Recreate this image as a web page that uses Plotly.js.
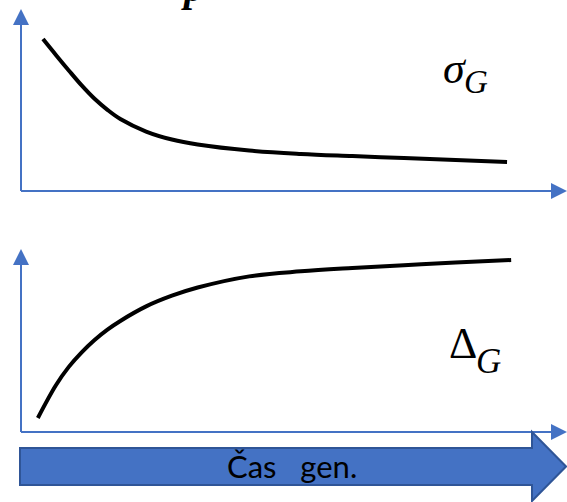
<!DOCTYPE html>
<html>
<head>
<meta charset="utf-8">
<script src="https://cdn.plot.ly/plotly-3.0.1.min.js"></script>
<style>html,body{margin:0;padding:0;background:#fff;}#chart{width:567px;height:502px;}</style>
</head>
<body>
<div id="chart"></div>
<script>
// ---- data ----
var genTop = [0, 0.25, 0.5, 0.75, 1, 1.25, 1.5, 2, 2.5, 3, 4, 5, 6, 7, 8, 9];
var sigmaG = [0.910, 0.815, 0.722, 0.632, 0.552, 0.486, 0.431, 0.356, 0.308, 0.278, 0.242, 0.222, 0.209, 0.197, 0.186, 0.174];
var genBottom = [-0.1, 0.25, 0.5, 0.75, 1, 1.25, 1.5, 2, 2.5, 3, 4, 5, 6, 7, 8, 9.08];
var deltaG = [0.084, 0.280, 0.390, 0.477, 0.551, 0.613, 0.665, 0.752, 0.816, 0.865, 0.932, 0.962, 0.982, 0.999, 1.015, 1.030];
var labelTop = ['σ', 'G'];
var labelBottom = ['Δ', 'G'];
var arrowText = 'Čas\u00a0\u00a0\u00a0gen.';
var topText = 'p';

// ---- layout helpers (pixel -> paper) ----
var W = 567, H = 502;
function px(x) { return x / W; }
function py(y) { return 1 - y / H; }
var blue = '#4472C4';

var traces = [
  {x: genTop, y: sigmaG, xaxis: 'x', yaxis: 'y', mode: 'lines',
   line: {color: '#000', width: 4, shape: 'spline', smoothing: 1}, hoverinfo: 'skip'},
  {x: genBottom, y: deltaG, xaxis: 'x', yaxis: 'y2', mode: 'lines',
   line: {color: '#000', width: 4, shape: 'spline', smoothing: 1}, hoverinfo: 'skip'}
];

function line(x0, y0, x1, y1) {
  return {type: 'line', xref: 'paper', yref: 'paper', x0: px(x0), y0: py(y0), x1: px(x1), y1: py(y1),
          line: {color: blue, width: 2}};
}
function tri(pts, fill, lc, lw) {
  var d = pts.map(function (p, i) { return (i ? 'L' : 'M') + px(p[0]) + ',' + py(p[1]); }).join(' ') + ' Z';
  return {type: 'path', xref: 'paper', yref: 'paper', path: d, fillcolor: fill,
          line: {color: lc || fill, width: lw === undefined ? 0 : lw}};
}

var shapes = [
  // top axes
  line(21, 191, 21, 22), line(21, 191, 554, 191),
  tri([[21, 9], [13, 25], [29, 25]], blue),
  tri([[567, 191], [551, 183], [551, 199]], blue),
  // bottom axes
  line(21, 432, 21, 262), line(21, 432, 554, 432),
  tri([[21, 249], [13, 265], [29, 265]], blue),
  tri([[567, 432], [551, 424], [551, 440]], blue),
  // big time arrow
  tri([[20, 448], [532, 448], [532, 432], [566, 466.5], [532, 501], [532, 485], [20, 485]], blue, '#2F5597', 2)
];

var annotations = [
  {xref: 'paper', yref: 'paper', x: px(455), y: py(68), xanchor: 'center', yanchor: 'middle', showarrow: false,
   text: '<i>' + labelTop[0] + '</i>', font: {family: 'Liberation Serif', size: 44, color: '#000'}},
  {xref: 'paper', yref: 'paper', x: px(476), y: py(82), xanchor: 'center', yanchor: 'middle', showarrow: false,
   text: '<i>' + labelTop[1] + '</i>', font: {family: 'Liberation Serif', size: 33, color: '#000'}},
  {xref: 'paper', yref: 'paper', x: px(463), y: py(343), xanchor: 'center', yanchor: 'middle', showarrow: false,
   text: labelBottom[0], font: {family: 'Liberation Serif', size: 44, color: '#000'}},
  {xref: 'paper', yref: 'paper', x: px(488), y: py(361), xanchor: 'center', yanchor: 'middle', showarrow: false,
   text: '<i>' + labelBottom[1] + '</i>', font: {family: 'Liberation Serif', size: 35, color: '#000'}},
  {xref: 'paper', yref: 'paper', x: px(292), y: py(466), xanchor: 'center', yanchor: 'middle', showarrow: false,
   text: arrowText, font: {family: 'Lato', size: 31, color: '#000'}},
  {xref: 'paper', yref: 'paper', x: px(192), y: py(12), xanchor: 'center', yanchor: 'bottom', showarrow: false,
   text: '<b><i>' + topText + '</i></b>', font: {family: 'Liberation Serif', size: 40, color: '#000'}}
];

var layout = {
  width: W, height: H, margin: {l: 0, r: 0, t: 0, b: 0},
  paper_bgcolor: '#fff', plot_bgcolor: 'rgba(0,0,0,0)', showlegend: false,
  xaxis: {domain: [0, 1], range: [-0.834, 10.163], visible: false, fixedrange: true, anchor: 'y'},
  yaxis: {domain: [py(191), py(24)], range: [0, 1], visible: false, fixedrange: true},
  yaxis2: {domain: [py(432), py(248.3)], range: [0, 1.1], visible: false, fixedrange: true, anchor: 'x'},
  shapes: shapes, annotations: annotations
};

Plotly.newPlot('chart', traces, layout, {staticPlot: true, displayModeBar: false});
</script>
</body>
</html>
